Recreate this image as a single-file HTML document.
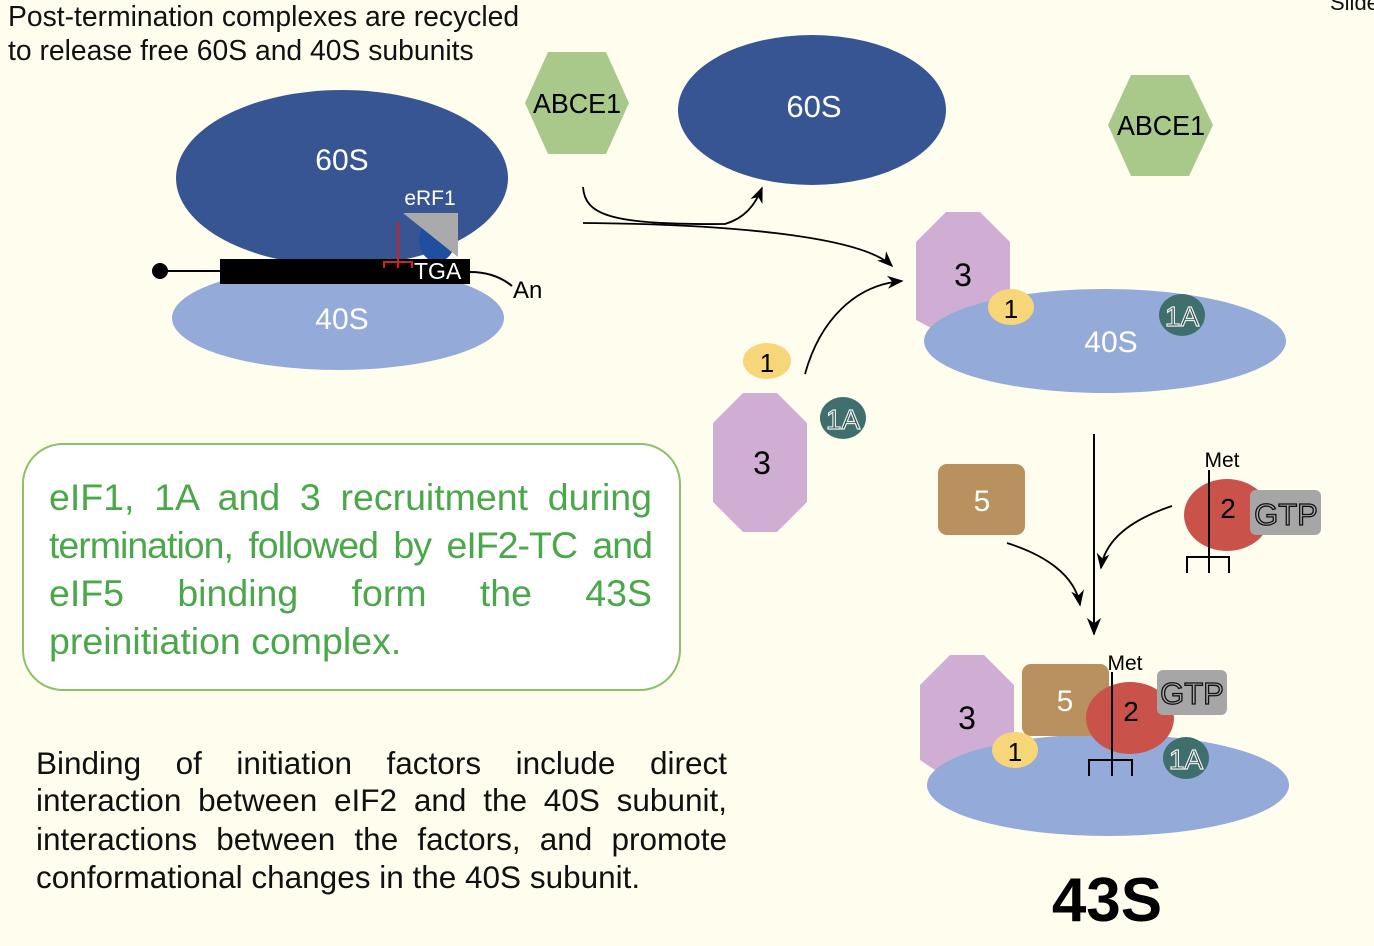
<!DOCTYPE html>
<html><head><meta charset="utf-8"><style>
html,body{margin:0;padding:0;background:#fffdee;}
svg{display:block;position:absolute;left:0;top:0;}
text{font-family:"Liberation Sans",sans-serif;}
.ln{position:absolute;white-space:nowrap;text-align:justify;text-align-last:justify;font-family:"Liberation Sans",sans-serif;}
.g{font-size:37.5px;color:#4aa84a;left:49px;width:603px;}
.b{font-size:31.5px;color:#111;left:36px;width:691px;}
</style></head><body>
<svg width="1374" height="946" viewBox="0 0 1374 946" xmlns="http://www.w3.org/2000/svg">
<defs>
<marker id="ah" viewBox="0 0 10 10" refX="9" refY="5" markerWidth="9" markerHeight="9" orient="auto-start-reverse"><path d="M0,1 L10,5 L0,9 L3,5 z" fill="#000"/></marker>
</defs>
<rect width="1374" height="946" fill="#fffdee"/>
<text x="8" y="26" font-size="28.3" fill="#111">Post-termination complexes are recycled</text>
<text x="8" y="60" font-size="28.3" fill="#111">to release free 60S and 40S subunits</text>
<text x="1330" y="10" font-size="22" fill="#111">Slide</text>

<ellipse cx="342" cy="178" rx="166" ry="88" fill="#385593"/>
<ellipse cx="338" cy="318" rx="166" ry="52" fill="#94aad8"/>
<text x="342" y="170" font-size="30" fill="#fff" text-anchor="middle">60S</text>
<text x="342" y="329" font-size="30" fill="#fff" text-anchor="middle">40S</text>
<text x="430" y="205" font-size="21" fill="#fff" text-anchor="middle">eRF1</text>
<ellipse cx="437" cy="240" rx="18" ry="22" fill="#1f4f9e"/>
<polygon points="403,213 458,213 458,257" fill="#aaaaaa"/>
<line x1="160" y1="271" x2="222" y2="271" stroke="#000" stroke-width="2"/>
<circle cx="160" cy="271" r="8" fill="#000"/>
<rect x="220" y="259" width="250" height="25" fill="#000"/>
<path d="M470,272 Q495,272 512,286" fill="none" stroke="#000" stroke-width="2"/>
<text x="513" y="298" font-size="24" fill="#000">An</text>
<text x="414" y="279" font-size="23" fill="#fff">TGA</text>
<path d="M398,222 V268 M384,268 V262 H412 V268" fill="none" stroke="#d02020" stroke-width="2"/>

<polygon points="525,103 548,52 606,52 629,103 606,154 548,154" fill="#a8c98a"/>
<text x="577" y="113" font-size="28" fill="#000" text-anchor="middle" textLength="88" lengthAdjust="spacingAndGlyphs">ABCE1</text>
<polygon points="1108,125 1131,75 1189,75 1213,125 1189,176 1131,176" fill="#a8c98a"/>
<text x="1161" y="135" font-size="28" fill="#000" text-anchor="middle" textLength="88" lengthAdjust="spacingAndGlyphs">ABCE1</text>

<ellipse cx="812" cy="110" rx="134" ry="75" fill="#385593"/>
<text x="814" y="117" font-size="31" fill="#fff" text-anchor="middle">60S</text>

<path d="M583,187 C585,215 610,225 725,224 C745,218 755,205 762,188" fill="none" stroke="#000" stroke-width="1.8" marker-end="url(#ah)"/>
<path d="M583,223 C720,224 860,235 892,266" fill="none" stroke="#000" stroke-width="1.8" marker-end="url(#ah)"/>
<path d="M805,374 C820,320 855,285 902,281" fill="none" stroke="#000" stroke-width="1.8" marker-end="url(#ah)"/>

<polygon points="946,212 980,212 1010,242 1010,320 980,336 946,336 916,320 916,242" fill="#d0aed3"/>
<text x="963" y="286" font-size="32" fill="#000" text-anchor="middle">3</text>
<ellipse cx="1105" cy="341" rx="181" ry="52" fill="#94aad8"/>
<text x="1111" y="352" font-size="30" fill="#fff" text-anchor="middle">40S</text>
<ellipse cx="1011" cy="307" rx="23" ry="18" fill="#f7d67a"/>
<text x="1011" y="318" font-size="26" fill="#000" text-anchor="middle">1</text>
<ellipse cx="1182" cy="315" rx="23" ry="21" fill="#3e6f6d"/>
<text x="1182" y="326" font-size="28" fill="#2a4a48" stroke="#eee" stroke-width="1.2" text-anchor="middle">1A</text>

<ellipse cx="767" cy="361" rx="24" ry="18" fill="#f7d67a"/>
<text x="767" y="372" font-size="26" fill="#000" text-anchor="middle">1</text>
<polygon points="743,393 777,393 807,423 807,502 777,532 743,532 713,502 713,423" fill="#d0aed3"/>
<text x="762" y="474" font-size="32" fill="#000" text-anchor="middle">3</text>
<ellipse cx="843" cy="418" rx="23" ry="21" fill="#3e6f6d"/>
<text x="843" y="429" font-size="28" fill="#2a4a48" stroke="#eee" stroke-width="1.2" text-anchor="middle">1A</text>

<rect x="23" y="444" width="657" height="246" rx="40" fill="#fff" stroke="#8cc068" stroke-width="2"/>

<line x1="1094" y1="434" x2="1094" y2="634" stroke="#000" stroke-width="2" marker-end="url(#ah)"/>
<rect x="938" y="464" width="87" height="71" rx="9" fill="#b8915f"/>
<text x="982" y="511" font-size="30" fill="#fff" text-anchor="middle">5</text>
<path d="M1007,543 C1045,555 1075,575 1080,605" fill="none" stroke="#000" stroke-width="1.8" marker-end="url(#ah)"/>
<ellipse cx="1227" cy="515" rx="43" ry="36" fill="#c9534a"/>
<rect x="1250" y="490" width="71" height="45" rx="6" fill="#a6a6a6"/>
<text x="1286" y="525" font-size="31" fill="#a6a6a6" stroke="#111" stroke-width="1.3" text-anchor="middle">GTP</text>
<text x="1228" y="518" font-size="28" fill="#000" text-anchor="middle">2</text>
<text x="1222" y="467" font-size="21" fill="#000" text-anchor="middle">Met</text>
<path d="M1209,470 V573 M1187,573 V557 H1229 V573" fill="none" stroke="#000" stroke-width="2"/>
<path d="M1172,506 C1130,520 1105,540 1101,568" fill="none" stroke="#000" stroke-width="1.8" marker-end="url(#ah)"/>

<polygon points="950,655 984,655 1014,685 1014,770 984,780 950,780 920,760 920,685" fill="#d0aed3"/>
<text x="967" y="729" font-size="32" fill="#000" text-anchor="middle">3</text>
<ellipse cx="1108" cy="785" rx="181" ry="51" fill="#94aad8"/>
<rect x="1022" y="664" width="87" height="72" rx="9" fill="#b8915f"/>
<text x="1065" y="711" font-size="30" fill="#fff" text-anchor="middle">5</text>
<ellipse cx="1130" cy="718" rx="44" ry="36" fill="#c9534a"/>
<rect x="1157" y="670" width="70" height="45" rx="6" fill="#a6a6a6"/>
<text x="1192" y="704" font-size="31" fill="#a6a6a6" stroke="#111" stroke-width="1.3" text-anchor="middle">GTP</text>
<text x="1131" y="721" font-size="28" fill="#000" text-anchor="middle">2</text>
<text x="1125" y="670" font-size="21" fill="#000" text-anchor="middle">Met</text>
<path d="M1112,672 V776 M1089,776 V760 H1132 V776" fill="none" stroke="#000" stroke-width="2"/>
<ellipse cx="1015" cy="750" rx="23" ry="18" fill="#f7d67a"/>
<text x="1015" y="761" font-size="26" fill="#000" text-anchor="middle">1</text>
<ellipse cx="1186" cy="758" rx="23" ry="21" fill="#3e6f6d"/>
<text x="1186" y="769" font-size="28" fill="#2a4a48" stroke="#eee" stroke-width="1.2" text-anchor="middle">1A</text>

<text x="1107" y="921" font-size="62" font-weight="bold" fill="#000" text-anchor="middle">43S</text>
</svg>
<div class="ln g" style="top:476px">eIF1, 1A and 3 recruitment during</div>
<div class="ln g" style="top:524px;letter-spacing:-1px">termination, followed by eIF2-TC and</div>
<div class="ln g" style="top:572px">eIF5 binding form the 43S</div>
<div class="ln g" style="top:620px;text-align-last:left">preinitiation complex.</div>
<div class="ln b" style="top:745px">Binding of initiation factors include direct</div>
<div class="ln b" style="top:782px">interaction between eIF2 and the 40S subunit,</div>
<div class="ln b" style="top:821px">interactions between the factors, and promote</div>
<div class="ln b" style="top:859px;text-align-last:left">conformational changes in the 40S subunit.</div>
</body></html>
